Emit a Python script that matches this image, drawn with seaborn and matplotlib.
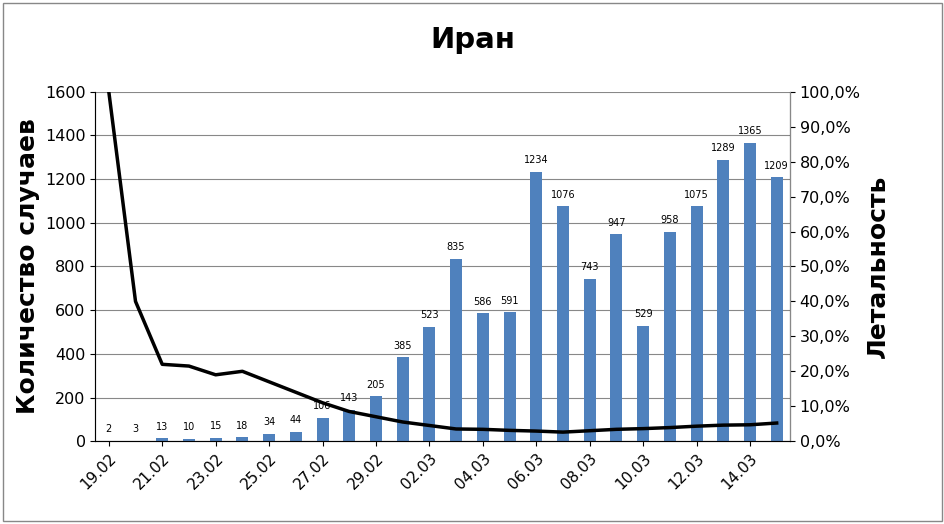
import matplotlib
matplotlib.use("Agg")
import matplotlib.pyplot as plt
import seaborn as sns
import pandas as pd
from matplotlib.ticker import FuncFormatter

dates = ["19.02","20.02","21.02","22.02","23.02","24.02","25.02","26.02","27.02","28.02","29.02",
         "01.03","02.03","03.03","04.03","05.03","06.03","07.03","08.03","09.03","10.03","11.03",
         "12.03","13.03","14.03","15.03"]
cases = [2,3,13,10,15,18,34,44,106,143,205,385,523,835,586,591,1234,1076,743,947,529,958,1075,1289,1365,1209]
lethality = [100,40,22,21.5,19,20,17,14,11,8.5,7,5.5,4.5,3.5,3.4,3.1,2.9,2.6,3.0,3.4,3.6,3.9,4.3,4.6,4.7,5.2]

df = pd.DataFrame({"date": dates, "cases": cases, "leth": lethality})

fig = plt.figure(figsize=(9.45, 5.24), dpi=100)
ax = fig.add_axes([0.101, 0.158, 0.735, 0.667])
sns.barplot(data=df, x="date", y="cases", color="#4F81BD", width=0.45, ax=ax, saturation=1)
ax.set_ylim(0, 1600)
ax.set_yticks(range(0, 1601, 200))
ax.yaxis.grid(True, color="#888888", lw=0.8)
ax.set_axisbelow(True)
for i, v in enumerate(cases):
    ax.text(i, v + 30, str(v), ha="center", va="bottom", fontsize=7)
ax.set_xlabel("")
ax.set_ylabel("Количество случаев", fontsize=18, fontweight="bold")
ax.set_xticks(range(0, len(dates), 2))
ax.set_xticklabels(dates[::2], rotation=45, ha="right", rotation_mode="anchor", fontsize=11)
ax.tick_params(axis="y", labelsize=11.5)
ax.set_xlim(-0.5, len(dates) - 0.5)
ax.spines["top"].set_visible(False)
ax.spines["left"].set_color("#888888")
ax.spines["bottom"].set_color("#888888")

ax2 = ax.twinx()
sns.lineplot(x=list(range(len(dates))), y=lethality, color="black", lw=2.5, ax=ax2)
ax2.set_ylim(0, 100)
ax2.set_yticks(range(0, 101, 10))
ax2.yaxis.set_major_formatter(FuncFormatter(lambda v, p: f"{v:.1f}%".replace(".", ",")))
ax2.set_ylabel("Летальность", fontsize=18, fontweight="bold")
ax2.tick_params(axis="y", labelsize=11.5)
ax2.spines["top"].set_visible(False)
ax2.spines["right"].set_color("#888888")
ax2.set_xlim(-0.5, len(dates) - 0.5)

fig.suptitle("Иран", fontsize=21, fontweight="bold", y=0.95)
fig.patches.append(plt.Rectangle((0.003, 0.005), 0.994, 0.99, transform=fig.transFigure,
                                 fill=False, edgecolor="#888888", lw=1))
fig.savefig("out.png", dpi=100)
